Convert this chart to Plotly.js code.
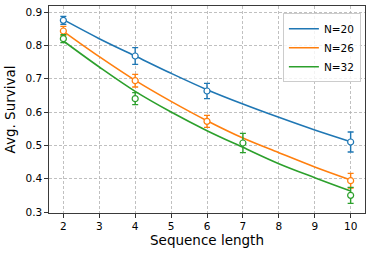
<!DOCTYPE html>
<html>
<head>
<meta charset="utf-8">
<script src="https://cdn.plot.ly/plotly-3.0.1.min.js"></script>
<style>html,body{margin:0;padding:0;background:#fff;}#chart{width:374px;height:255px;}</style>
</head>
<body>
<div id="chart"></div>
<script>
// Fitted curves (read at integer sequence lengths)
const fitX = [2, 3, 4, 5, 6, 7, 8, 9, 10];
const fitN20 = [0.877, 0.820, 0.768, 0.716, 0.667, 0.624, 0.584, 0.546, 0.511];
const fitN26 = [0.842, 0.766, 0.695, 0.632, 0.574, 0.522, 0.478, 0.435, 0.396];
const fitN32 = [0.813, 0.735, 0.662, 0.600, 0.544, 0.494, 0.445, 0.403, 0.363];

// Measured points with error bars
const ptX20 = [2, 4, 6, 10];
const ptY20 = [0.875, 0.768, 0.663, 0.510];
const ptE20 = [0.012, 0.025, 0.023, 0.030];

const ptX26 = [2, 4, 6, 10];
const ptY26 = [0.843, 0.694, 0.572, 0.394];
const ptE26 = [0.014, 0.019, 0.018, 0.022];

const ptX32 = [2, 4, 7, 10];
const ptY32 = [0.820, 0.640, 0.507, 0.350];
const ptE32 = [0.012, 0.018, 0.029, 0.024];

const seriesNames = ['N=20', 'N=26', 'N=32'];
const colors = ['#1f77b4', '#ff7f0e', '#2ca02c'];

const xTicks = [2, 3, 4, 5, 6, 7, 8, 9, 10];
const yTicks = [0.3, 0.4, 0.5, 0.6, 0.7, 0.8, 0.9];

const fits = [fitN20, fitN26, fitN32];
const pts = [[ptX20, ptY20, ptE20], [ptX26, ptY26, ptE26], [ptX32, ptY32, ptE32]];

const traces = [];
for (let i = 0; i < 3; i++) {
  traces.push({
    x: fitX, y: fits[i], type: 'scatter', mode: 'lines',
    name: seriesNames[i],
    line: {color: colors[i], width: 1.6, shape: 'spline', smoothing: 1.0},
    showlegend: true, hoverinfo: 'skip'
  });
}
for (let i = 0; i < 3; i++) {
  traces.push({
    x: pts[i][0], y: pts[i][1], type: 'scatter', mode: 'markers',
    name: seriesNames[i] + ' data',
    marker: {symbol: 'circle', size: 6, color: '#ffffff', line: {color: colors[i], width: 1.2}},
    error_y: {type: 'data', array: pts[i][2], visible: true, color: colors[i], thickness: 1.4, width: 3},
    showlegend: false
  });
}

const axisCommon = {
  showline: true, mirror: true, linecolor: '#3a3a3a', linewidth: 1.2,
  ticks: 'outside', ticklen: 3.5, tickwidth: 1, tickcolor: '#333',
  showgrid: true, gridcolor: '#b0b0b0', griddash: '3px,2px', gridwidth: 0.8,
  zeroline: false,
  tickfont: {family: 'DejaVu Sans', size: 10.5, color: '#000'}
};

const layout = {
  width: 374, height: 255,
  margin: {l: 49, r: 9, t: 6, b: 42},
  paper_bgcolor: '#fff', plot_bgcolor: '#fff',
  font: {family: 'DejaVu Sans', color: '#000'},
  xaxis: Object.assign({}, axisCommon, {
    range: [1.6, 10.4], tickvals: xTicks, ticktext: xTicks.map(String),
    title: {text: 'Sequence length', font: {family: 'DejaVu Sans', size: 13.5, color: '#000'}, standoff: 4}
  }),
  yaxis: Object.assign({}, axisCommon, {
    range: [0.297, 0.918], tickvals: yTicks, ticktext: yTicks.map(v => v.toFixed(1)),
    title: {text: 'Avg. Survival', font: {family: 'DejaVu Sans', size: 13.5, color: '#000'}, standoff: 6}
  }),
  legend: {
    x: 0.987, y: 0.965, xanchor: 'right', yanchor: 'top',
    bgcolor: 'rgba(255,255,255,0.8)', bordercolor: '#cccccc', borderwidth: 1,
    font: {family: 'DejaVu Sans', size: 10.5, color: '#000'},
    itemwidth: 30, tracegroupgap: 0
  },
  showlegend: true
};

Plotly.newPlot('chart', traces, layout, {staticPlot: true, displayModeBar: false});
</script>
</body>
</html>
